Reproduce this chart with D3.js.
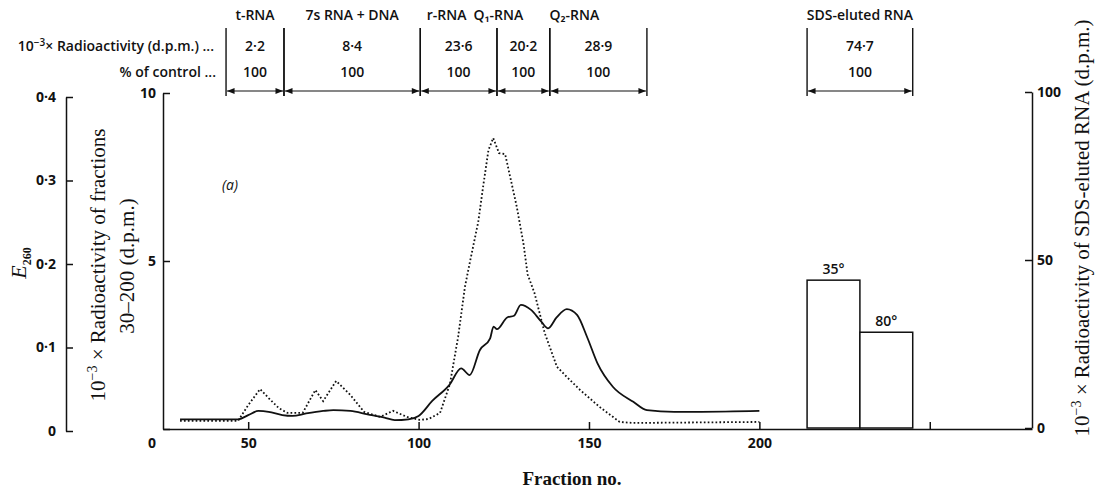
<!DOCTYPE html>
<html>
<head>
<meta charset="utf-8">
<script src="https://cdn.jsdelivr.net/npm/d3@7"></script>
<style>
body { margin:0; background:#fff; }
svg { display:block; }
.axis path, .axis line { stroke:#111; stroke-width:1.5px; }
.axis text { font-family:"Open Sans", Lato, sans-serif; font-weight:700; font-size:14px; fill:#111; }
.ttl { font-family:"Liberation Serif", "DejaVu Serif", serif; fill:#111; }
.tab { font-family:"Open Sans", Lato, sans-serif; font-weight:600; font-size:14px; fill:#111; }
</style>
</head>
<body>
<div id="chart"></div>
<script>
// E260 trace (solid)
var e260Frac = [30, 40, 47, 50, 53, 56, 60, 63, 67, 72, 75, 80, 85, 90, 93, 97, 100, 104, 109, 112.5, 115, 118, 121, 122, 123, 126, 128, 130, 133, 136, 138, 140.5, 143.5, 146.5, 149.5, 152.5, 157, 163, 167, 175, 183, 200];
var e260Val  = [0.014, 0.014, 0.014, 0.019, 0.024, 0.023, 0.019, 0.018, 0.021, 0.024, 0.025, 0.024, 0.020, 0.016, 0.013, 0.014, 0.018, 0.036, 0.055, 0.075, 0.067, 0.097, 0.111, 0.125, 0.122, 0.136, 0.138, 0.151, 0.145, 0.131, 0.123, 0.136, 0.146, 0.139, 0.112, 0.081, 0.053, 0.035, 0.025, 0.023, 0.023, 0.024];

// radioactivity of fractions 30-200 (dotted), 10^-3 x d.p.m.
var radFrac = [30, 40, 47, 50, 53.5, 56, 59, 61.5, 66, 69.7, 72, 75.8, 80, 84, 88.7, 92.5, 96.6, 100.4, 103, 106.3, 109.2, 111.6, 113.6, 115, 117.5, 119, 120.5, 121.9, 123.6, 125.4, 128.8, 130.8, 132, 134, 137, 140.6, 143.5, 147.4, 153.2, 159, 163, 200];
var radVal  = [0.24, 0.24, 0.24, 0.71, 1.19, 0.92, 0.62, 0.48, 0.48, 1.16, 0.83, 1.43, 1.01, 0.51, 0.36, 0.54, 0.36, 0.27, 0.30, 0.48, 1.34, 2.74, 4.23, 4.94, 6.16, 7.26, 8.30, 8.66, 8.21, 8.18, 6.62, 5.5, 4.6, 4.05, 2.86, 1.85, 1.55, 1.16, 0.65, 0.21, 0.18, 0.21];

// SDS-eluted RNA bars
var sdsTemps = ["35°", "80°"];
var sdsVal = [44, 28.5];

// table at the top
var groups = ["t-RNA", "7s RNA + DNA", "r-RNA", "Q₁-RNA", "Q₂-RNA", "SDS-eluted RNA"];
var groupFrom = [43.5, 60.5, 100.5, 123, 138.5, 214];
var groupTo = [60.5, 100.5, 123, 138.5, 167, 245];
var groupRadio = ["2·2", "8·4", "23·6", "20·2", "28·9", "74·7"];
var groupPct = ["100", "100", "100", "100", "100", "100"];

var W = 1096, H = 489;
var svg = d3.select('#chart').append('svg')
	.attr('width', W)
	.attr('height', H);

var x = d3.scaleLinear().domain([25, 280]).range([163, 1032]);
var yE = d3.scaleLinear().domain([0, 0.4]).range([431, 97]);
var yR = d3.scaleLinear().domain([0, 10]).range([429, 93]);
var yS = d3.scaleLinear().domain([0, 100]).range([428, 92]);
var dot = d => d3.format('.1f')(d).replace('.', '·');

// arrow heads
var defs = svg.append('defs');
['s', 'e'].forEach(function(k) {
	defs.append('marker')
		.attr('id', 'arr-' + k)
		.attr('viewBox', '0 0 10 8')
		.attr('refX', k == 'e' ? 10 : 0)
		.attr('refY', 4)
		.attr('markerWidth', 9)
		.attr('markerHeight', 6)
		.attr('markerUnits', 'userSpaceOnUse')
		.attr('orient', 'auto')
		.append('path')
			.attr('d', k == 'e' ? 'M0,0L10,4L0,8Z' : 'M10,0L0,4L10,8Z')
			.attr('fill', '#111');
});

// axes
svg.append('g')
	.attr('class', 'axis')
	.attr('transform', 'translate(0,429)')
	.call(d3.axisBottom(x).tickValues([50, 100, 150, 200, 250])
		.tickSizeInner(-7).tickSizeOuter(0).tickPadding(9)
		.tickFormat(d => d == 250 ? '' : d));

svg.append('g')
	.attr('class', 'axis')
	.attr('transform', 'translate(66,0)')
	.call(d3.axisLeft(yE).tickValues([0, 0.1, 0.2, 0.3, 0.4])
		.tickSizeInner(-7).tickSizeOuter(0).tickPadding(10)
		.tickFormat(d => d == 0 ? '0' : dot(d)));

svg.append('g')
	.attr('class', 'axis')
	.attr('transform', 'translate(163,0)')
	.call(d3.axisLeft(yR).tickValues([0, 5, 10])
		.tickSizeInner(-7).tickSizeOuter(0).tickPadding(7))
	.call(g => g.selectAll('.tick').filter(d => d == 0).select('text').attr('y', 14));

svg.append('g')
	.attr('class', 'axis')
	.attr('transform', 'translate(1032,0)')
	.call(d3.axisRight(yS).tickValues([0, 50, 100])
		.tickSizeInner(-7).tickSizeOuter(0).tickPadding(5));

// traces
var e260 = e260Frac.map((f, i) => [f, e260Val[i]]);
var rad = radFrac.map((f, i) => [f, radVal[i]]);

svg.append('path')
	.datum(e260)
	.attr('d', d3.line().x(d => x(d[0])).y(d => yE(d[1])).curve(d3.curveMonotoneX))
	.attr('fill', 'none')
	.attr('stroke', '#111')
	.attr('stroke-width', 1.8);

svg.append('path')
	.datum(rad)
	.attr('d', d3.line().x(d => x(d[0])).y(d => yR(d[1])))
	.attr('fill', 'none')
	.attr('stroke', '#111')
	.attr('stroke-width', 1.8)
	.attr('stroke-dasharray', '1.7,2.2');

// bars
var band = d3.scaleBand().domain(sdsTemps)
	.range([x(groupFrom[5]), x(groupTo[5])])
	.paddingInner(0);

svg.append('g').selectAll('rect')
	.data(sdsTemps)
	.enter()
	.append('rect')
		.attr('x', d => band(d))
		.attr('y', (d, i) => yS(sdsVal[i]))
		.attr('width', band.bandwidth())
		.attr('height', (d, i) => yS(0) - yS(sdsVal[i]))
		.attr('fill', '#fff')
		.attr('stroke', '#111')
		.attr('stroke-width', 1.5);

svg.append('g').selectAll('text')
	.data(sdsTemps)
	.enter()
	.append('text')
		.attr('class', 'tab')
		.attr('x', d => band(d) + band.bandwidth() / 2)
		.attr('y', (d, i) => yS(sdsVal[i]) - 6)
		.attr('text-anchor', 'middle')
		.text(d => d);

// table
var tab = svg.append('g');
groups.forEach(function(g, i) {
	var a = x(groupFrom[i]), b = x(groupTo[i]), m = (a + b) / 2;
	[a, b].forEach(function(v) {
		tab.append('line')
			.attr('x1', v).attr('x2', v)
			.attr('y1', 28).attr('y2', 96)
			.attr('stroke', '#111').attr('stroke-width', 1.4);
	});
	tab.append('line')
		.attr('x1', a + 1).attr('x2', b - 1)
		.attr('y1', 91).attr('y2', 91)
		.attr('stroke', '#111').attr('stroke-width', 1.2)
		.attr('marker-start', 'url(#arr-s)')
		.attr('marker-end', 'url(#arr-e)');
	tab.append('text').attr('class', 'tab')
		.attr('x', m).attr('y', 51).attr('text-anchor', 'middle').text(groupRadio[i]);
	tab.append('text').attr('class', 'tab')
		.attr('x', m).attr('y', 77).attr('text-anchor', 'middle').text(groupPct[i]);
});
// headers sit a little off the bracket centres where they are crowded
var headerShift = [0, 0, -12, -25, -24, 0];
groups.forEach(function(g, i) {
	tab.append('text').attr('class', 'tab')
		.attr('x', (x(groupFrom[i]) + x(groupTo[i])) / 2 + headerShift[i])
		.attr('y', 20)
		.attr('text-anchor', 'middle')
		.attr('font-size', 13.5)
		.text(g);
});

var r1 = tab.append('text').attr('class', 'tab')
	.attr('x', 214).attr('y', 51).attr('text-anchor', 'end');
r1.append('tspan').text('10');
r1.append('tspan').attr('dy', -5).attr('font-size', 10).text('−3');
r1.append('tspan').attr('dy', 5).text('× Radioactivity (d.p.m.) ...');
tab.append('text').attr('class', 'tab')
	.attr('x', 216).attr('y', 77).attr('text-anchor', 'end')
	.text('% of control ...');

// axis titles
var eT = svg.append('text').attr('class', 'ttl')
	.attr('transform', 'translate(26,263) rotate(-90)')
	.attr('text-anchor', 'middle');
eT.append('tspan').attr('font-style', 'italic').attr('font-size', 22).text('E');
eT.append('tspan').attr('font-size', 12).attr('font-weight', 700).attr('dy', 5).text('260');

var mT = svg.append('text').attr('class', 'ttl')
	.attr('transform', 'translate(105,265) rotate(-90)')
	.attr('text-anchor', 'middle')
	.attr('font-size', 21);
mT.append('tspan').text('10');
mT.append('tspan').attr('dy', -8).attr('font-size', 14).text('−3');
mT.append('tspan').attr('dy', 8).text(' × Radioactivity of fractions');
svg.append('text').attr('class', 'ttl')
	.attr('transform', 'translate(134,266) rotate(-90)')
	.attr('text-anchor', 'middle')
	.attr('font-size', 21)
	.text('30–200 (d.p.m.)');

var rT = svg.append('text').attr('class', 'ttl')
	.attr('transform', 'translate(1089,228) rotate(-90)')
	.attr('text-anchor', 'middle')
	.attr('font-size', 21);
rT.append('tspan').text('10');
rT.append('tspan').attr('dy', -8).attr('font-size', 14).text('−3');
rT.append('tspan').attr('dy', 8).text(' × Radioactivity of SDS-eluted RNA (d.p.m.)');

svg.append('text').attr('class', 'ttl')
	.attr('x', 572).attr('y', 485)
	.attr('text-anchor', 'middle')
	.attr('font-size', 19)
	.attr('font-weight', 700)
	.text('Fraction no.');

svg.append('text')
	.attr('x', 230).attr('y', 190)
	.attr('text-anchor', 'middle')
	.attr('font-family', '"Open Sans", sans-serif')
	.attr('font-style', 'italic')
	.attr('font-size', 14)
	.attr('fill', '#111')
	.text('(a)');
</script>
</body>
</html>
